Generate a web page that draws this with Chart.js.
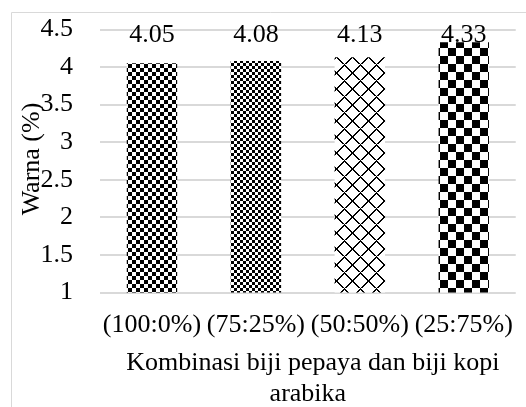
<!DOCTYPE html>
<html>
<head>
<meta charset="utf-8">
<script src="https://cdn.jsdelivr.net/npm/chart.js@4.4.0/dist/chart.umd.min.js"></script>
<style>
  html, body { margin: 0; padding: 0; background: #fff; overflow: hidden; }
  canvas { display: block; }
</style>
</head>
<body>
<canvas id="c" width="530" height="407"></canvas>
<script>
const categories = ['(100:0%)', '(75:25%)', '(50:50%)', '(25:75%)'];
const warnaValues = [4.05, 4.08, 4.13, 4.33];
const dataLabels = ['4.05', '4.08', '4.13', '4.33'];
const yTicks = [1, 1.5, 2, 2.5, 3, 3.5, 4, 4.5];
const xTitleLines = ['Kombinasi biji pepaya dan biji kopi', 'arabika'];
const yTitle = 'Warna (%)';

const FONT = '"Liberation Serif", "Times New Roman", serif';
const FS = 26;

function checker(size) {
  const c = document.createElement('canvas');
  c.width = size * 2; c.height = size * 2;
  const x = c.getContext('2d');
  x.fillStyle = '#fff'; x.fillRect(0, 0, size * 2, size * 2);
  x.fillStyle = '#000';
  x.fillRect(0, 0, size, size);
  x.fillRect(size, size, size, size);
  return x.createPattern(c, 'repeat');
}
function diamond(p) {
  const c = document.createElement('canvas');
  c.width = p; c.height = p;
  const x = c.getContext('2d');
  x.fillStyle = '#fff'; x.fillRect(0, 0, p, p);
  x.fillStyle = '#000';
  const h = p / 2;
  for (let i = 0; i < p; i++) {
    const y1 = ((h - i) % p + p) % p;
    const y2 = (h + i) % p;
    x.fillRect(i, y1, 1, 2);
    x.fillRect(i, y2, 1, 2);
  }
  return x.createPattern(c, 'repeat');
}
const patterns = [checker(4), checker(3), diamond(16), checker(8)];

const overlay = {
  id: 'overlay',
  beforeDraw(chart) {
    const g = chart.ctx;
    g.save();
    g.strokeStyle = '#d9d9d9';
    g.lineWidth = 1;
    g.beginPath();
    g.moveTo(11.5, 407);
    g.lineTo(11.5, 12.5);
    g.lineTo(530, 12.5);
    g.stroke();
    g.restore();
  },
  afterDatasetsDraw(chart) {
    const g = chart.ctx;
    const area = chart.chartArea;
    const meta = chart.getDatasetMeta(0);
    g.save();
    g.fillStyle = '#000';
    g.font = FS + 'px ' + FONT;
    g.textAlign = 'center';
    g.textBaseline = 'middle';
    meta.data.forEach((bar, i) => {
      g.fillText(dataLabels[i], bar.x, area.top + 6);
    });
    const cx = (area.left + area.right) / 2;
    g.fillText(xTitleLines[0], cx + 5, 363);
    g.fillText(xTitleLines[1], cx, 394);
    g.translate(32, (area.top + area.bottom) / 2 - 2);
    g.rotate(-Math.PI / 2);
    g.fillText(yTitle, 0, 0);
    g.restore();
  }
};

new Chart(document.getElementById('c'), {
  type: 'bar',
  data: {
    labels: categories,
    datasets: [{
      data: warnaValues,
      backgroundColor: patterns,
      borderWidth: 0,
      barPercentage: 0.485,
      categoryPercentage: 1
    }]
  },
  options: {
    responsive: false,
    animation: false,
    devicePixelRatio: 1,
    layout: { padding: { top: 29.5, right: 1, left: 0, bottom: 0 } },
    plugins: { legend: { display: false }, tooltip: { enabled: false } },
    scales: {
      x: {
        grid: { display: false, drawTicks: false },
        border: { display: false },
        ticks: { color: '#000', font: { family: FONT, size: FS }, padding: 17, maxRotation: 0, autoSkip: false },
        afterFit(s) { s.height = 407 - 292.5; }
      },
      y: {
        min: 1, max: 4.5,
        afterBuildTicks(s) { s.ticks = yTicks.map(v => ({ value: v })); },
        grid: { color: '#d9d9d9', lineWidth: 2, drawTicks: false },
        border: { display: false },
        ticks: {
          color: '#000', font: { family: FONT, size: FS }, padding: 27,
          callback: v => String(v)
        },
        afterFit(s) { s.width = 100; s.paddingTop = 0; s.paddingBottom = 0; }
      }
    }
  },
  plugins: [overlay]
});
</script>
</body>
</html>
